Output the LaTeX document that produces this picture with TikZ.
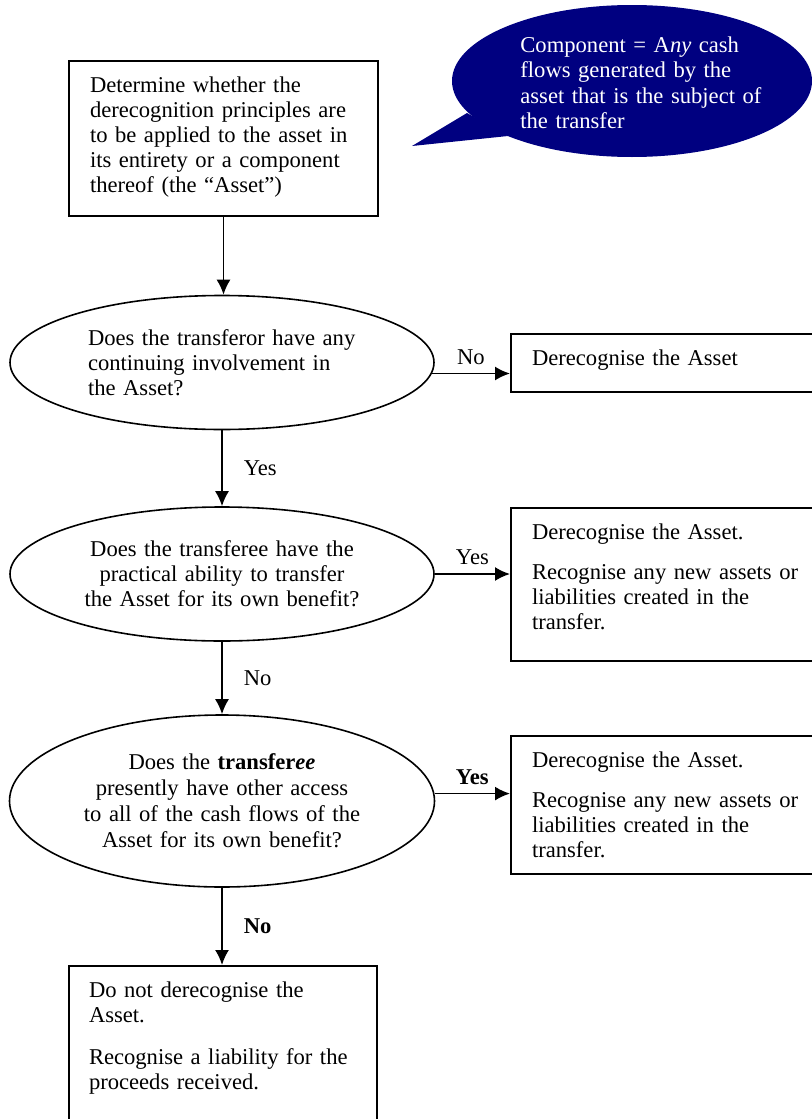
\documentclass[tikz,border=0pt]{standalone}
\usepackage{fontspec}
\setmainfont{Liberation Serif}
\usepackage{xcolor}
\usepackage{tikz}
\usetikzlibrary{shapes.geometric}
\usetikzlibrary{arrows.meta}
\tikzset{>={Latex[length=7.5pt,width=7pt]}}
\definecolor{calloutblue}{RGB}{0,0,128}
\tikzset{
	box/.style={draw=black, line width=1pt, rectangle, anchor=north west, align=left,
		inner xsep=10.5pt, inner ysep=8.2pt, text height=7.7pt},
	question/.style={draw=black, line width=0.8pt, ellipse, inner sep=0pt,
		minimum width=212pt, minimum height=67pt},
	flow/.style={->, line width=0.9pt},
	lbl/.style={inner sep=1.5pt},
}

\begin{document}
\begin{tikzpicture}[x=0.5pt, y=-0.5pt, font=\fontsize{11.3}{12.5}\selectfont]
	\useasboundingbox (0,0) rectangle (812,1119);
	\clip (0,0) rectangle (812,1119);

	% Callout
	\fill[calloutblue] (632,81) ellipse (90pt and 38pt);
	\fill[calloutblue] (467,113) -- (412,146) -- (508,136) -- cycle;
	\node[anchor=base west, text=white, align=left, text width=160pt, inner sep=0pt] (comp) at (520,53)
		{Component = A\textit{ny} cash\\ flows generated by the\\ asset that is the subject of\\ the transfer};

	% Boxes
	\node[box, minimum width=154.5pt, text width=133.5pt, text depth=53.4pt] (b1) at (68,60)
		{Determine whether the\\ derecognition principles are\\ to be applied to the asset in\\ its entirety or a component\\ thereof (the ``Asset'')};
	\node[box, minimum width=170pt, text width=149pt, text depth=4.9pt] (b2) at (510,333)
		{Derecognise the Asset};
	\node[box, minimum width=170pt, text width=149pt, text depth=52.4pt] (b3) at (510,507)
		{Derecognise the Asset.\\[7.5pt] Recognise any new assets or\\ liabilities created in the\\ transfer.};
	\node[box, minimum width=170pt, text width=149pt, text depth=44.9pt] (b4) at (510,735)
		{Derecognise the Asset.\\[7.5pt] Recognise any new assets or\\ liabilities created in the\\ transfer.};
	\node[box, minimum width=154pt, text width=134pt, inner xsep=10pt, text depth=80pt] (b5) at (68,965)
		{Do not derecognise the\\ Asset.\\[8.5pt] Recognise a liability for the\\ proceeds received.};

	% Questions
	\node[question, text width=134pt, align=left] (q1) at (222,362.5)
		{Does the transferor have any\\ continuing involvement in\\ the Asset?};
	\node[question, text width=140pt, align=center] (q2) at (222,574)
		{Does the transferee have the\\ practical ability to transfer\\ the Asset for its own benefit?};
	\node[question, minimum width=212.5pt, minimum height=86pt, text width=140pt, align=center,
		font=\fontsize{11.3}{13}\selectfont] (q3) at (222,801)
		{Does the \textbf{transfer\textit{ee}}\\ presently have other access\\ to all of the cash flows of the\\ Asset for its own benefit?};

	%% Arrows
	\draw[flow] (b1.south) -- (b1.south |- q1.north);
	\draw[flow] (q1.-3) -- (q1.-3 -| b2.west) node[lbl, midway, above=2.5pt] {No};
	\draw[flow] (q1.south) -- (q2.north) node[lbl, midway, right=9pt] {Yes};
	\draw[flow] (q2.east) -- (q2.east -| b3.west) node[lbl, midway, above=2.5pt] {Yes};
	\draw[flow] (q2.south) -- (q3.north) node[lbl, midway, right=9pt] {No};
	\draw[flow] (q3.2) -- (q3.2 -| b4.west) node[lbl, midway, above=2.5pt] {\textbf{Yes}};
	\draw[flow] (q3.south) -- (q3.south |- b5.north) node[lbl, midway, right=9pt] {\textbf{No}};
\end{tikzpicture}
\end{document}
